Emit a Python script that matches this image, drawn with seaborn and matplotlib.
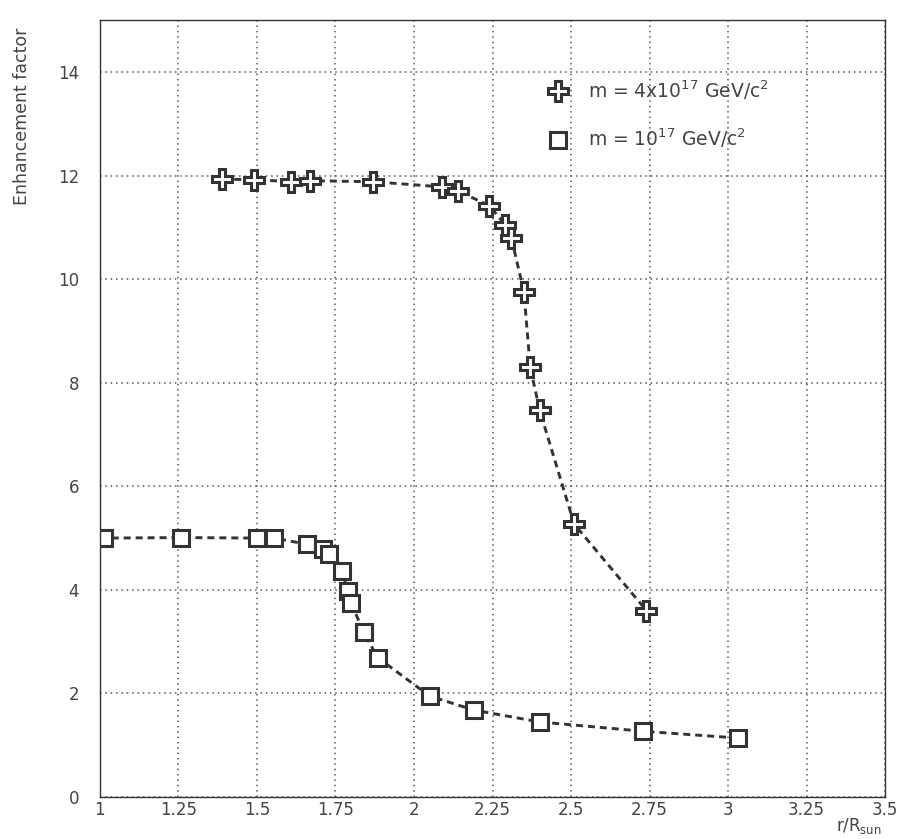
import matplotlib
matplotlib.use("Agg")
import matplotlib.pyplot as plt
import seaborn as sns
import numpy as np
import pandas as pd
from matplotlib.ticker import MultipleLocator, FuncFormatter

# ---- data ----
cross_x = [1.39, 1.49, 1.61, 1.67, 1.87, 2.09, 2.14, 2.24, 2.29, 2.31, 2.35, 2.37, 2.40, 2.51, 2.74]
cross_y = [11.93, 11.92, 11.88, 11.90, 11.88, 11.78, 11.70, 11.42, 11.05, 10.80, 9.75, 8.30, 7.47, 5.27, 3.60]

square_x = [1.0, 1.015, 1.26, 1.50, 1.555, 1.66, 1.71, 1.73, 1.77, 1.79, 1.80, 1.84, 1.885, 2.05, 2.19, 2.40, 2.73, 3.03]
square_y = [5.0, 5.0, 5.01, 5.0, 5.0, 4.88, 4.78, 4.70, 4.37, 3.98, 3.75, 3.18, 2.69, 1.95, 1.68, 1.45, 1.27, 1.14]

label_cross = r"m = 4x10$^{17}$ GeV/c$^{2}$"
label_square = r"m = 10$^{17}$ GeV/c$^{2}$"
xlabel = r"r/R$_{\mathrm{sun}}$"
ylabel = "Enhancement factor"

sns.set_style("white")
plt.rcParams["font.family"] = ["DejaVu Sans"]
plt.rcParams["mathtext.fontset"] = "dejavusans"

ink = "#333333"
txt = "#444444"

fig = plt.figure(figsize=(9.07, 8.39), dpi=100)
ax = fig.add_axes([0.110, 0.050, 0.866, 0.926])

df_c = pd.DataFrame({"x": cross_x, "y": cross_y})
df_s = pd.DataFrame({"x": square_x, "y": square_y})

sns.lineplot(data=df_c, x="x", y="y", ax=ax, color=ink, linestyle=(0, (2.4, 1.7)), linewidth=2.1,
             marker="P", markersize=14, markerfacecolor="white", markeredgecolor=ink,
             markeredgewidth=2.2, label=label_cross, sort=False, estimator=None)
sns.lineplot(data=df_s, x="x", y="y", ax=ax, color=ink, linestyle=(0, (2.4, 1.7)), linewidth=2.1,
             marker="s", markersize=12, markerfacecolor="white", markeredgecolor=ink,
             markeredgewidth=2.2, label=label_square, sort=False, estimator=None)

ax.set_xlim(1, 3.5)
ax.set_ylim(0, 15)
ax.xaxis.set_major_locator(MultipleLocator(0.25))
ax.xaxis.set_minor_locator(MultipleLocator(0.05))
ax.yaxis.set_major_locator(MultipleLocator(2))
ax.yaxis.set_minor_locator(MultipleLocator(0.5))
ax.xaxis.set_major_formatter(FuncFormatter(lambda v, p: f"{v:g}"))
ax.yaxis.set_major_formatter(FuncFormatter(lambda v, p: f"{v:g}"))

ax.grid(True, which="major", color="#555555", linestyle=(0, (1, 2.5)), linewidth=1.1)
ax.tick_params(axis="x", which="major", direction="in", length=12, width=1.0, color=ink,
               labelsize=12, labelcolor=txt, pad=3, top=False)
ax.tick_params(axis="x", which="minor", direction="in", length=6, width=1.0, color=ink, top=False)
ax.tick_params(axis="y", which="major", direction="in", length=9, width=1.0, color=ink,
               labelsize=12, labelcolor=txt, pad=15, right=False)
ax.tick_params(axis="y", which="minor", direction="in", length=6, width=1.0, color=ink, right=False)

for s in ax.spines.values():
    s.set_visible(True)
    s.set_color(ink)
    s.set_linewidth(1.0)

ax.set_xlabel(xlabel, loc="right", fontsize=12, color=txt)
ax.xaxis.set_label_coords(0.995, -0.024)
ax.set_ylabel(ylabel, loc="top", fontsize=12.5, color=txt)
ax.yaxis.set_label_coords(-0.088, 0.99)

leg = ax.legend(loc="upper left", bbox_to_anchor=(0.547, 0.947), frameon=False,
                fontsize=13.5, labelspacing=1.35, handlelength=1.2, handletextpad=1.0,
                labelcolor=txt)
for h in leg.legend_handles:
    h.set_linestyle("None")

fig.savefig("out.png", dpi=100)
